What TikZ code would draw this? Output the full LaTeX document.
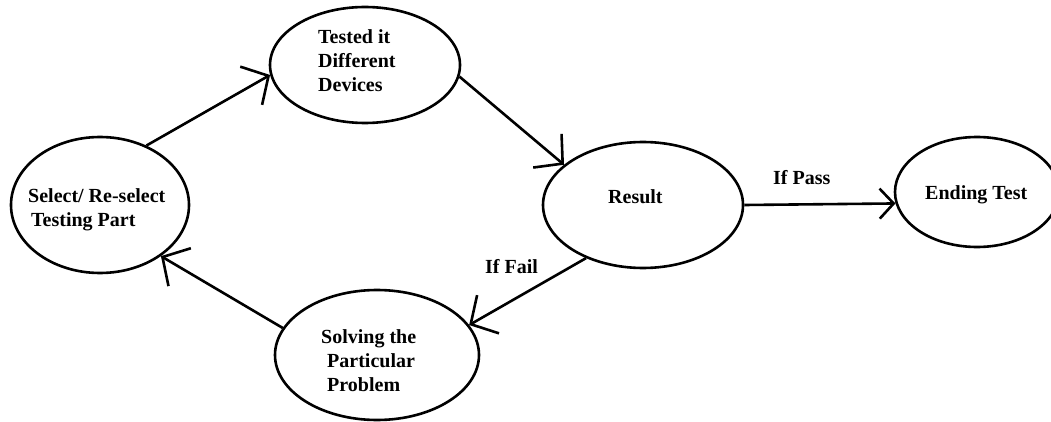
\documentclass[tikz,border=0pt]{standalone}
\usepackage{fontspec}
\setmainfont{Liberation Serif}
\usetikzlibrary{shapes.geometric,arrows.meta}
\begin{document}
\begin{tikzpicture}[x=1pt,y=-1pt,
  st/.style={draw, ellipse, line width=2.6pt, inner sep=0pt},
  lbl/.style={font=\fontsize{20}{24}\selectfont\bfseries, inner sep=0pt, align=left},
  conn/.style={line width=2.6pt, -{Straight Barb[length=20pt,width=44pt]}},
  connsmall/.style={line width=2.6pt, -{Straight Barb[length=14pt,width=30pt]}}]
\useasboundingbox (0,0) rectangle (1051,422);
% states
\node[st, minimum width=178pt, minimum height=136pt] (sel) at (100,205) {};
\node[st, minimum width=190pt, minimum height=116pt] (dev) at (365,65) {};
\node[st, minimum width=200pt, minimum height=126pt] (res) at (643,205) {};
\node[st, minimum width=164pt, minimum height=110pt] (fin) at (977,192) {};
\node[st, minimum width=204pt, minimum height=130pt] (sol) at (377,355) {};
% texts
\node[lbl, anchor=north west] (tsel) at (28,188.4) {Select/ Re-select\\\hspace{3pt}Testing Part};
\node[lbl, anchor=north west] (tdev) at (318,29.5) {Tested it\\Different\\Devices};
\node[lbl, anchor=base west] (tres) at (608,203) {Result};
\node[lbl, anchor=base west] (tfin) at (925,200) {Ending Test};
\node[lbl, anchor=north west] (tsol) at (321,329.5) {Solving the\\\hspace{6pt}Particular\\\hspace{6pt}Problem};
% connectors
\draw[conn] (sel.52.5) -- (dev.186.1);
\draw[conn] (dev.-7.4) -- (res.153.4);
\draw[connsmall] (res.0) -- (fin.188);
\draw[conn] (res.223.4) -- (sol.18.2);
\draw[conn] (sol.164.5) -- (sel.-40.8);
% edge labels
\node[lbl, anchor=base west] (pass) at (773,185) {If Pass};
\node[lbl, anchor=base west] (fail) at (485,273) {If Fail};
\end{tikzpicture}
\end{document}
